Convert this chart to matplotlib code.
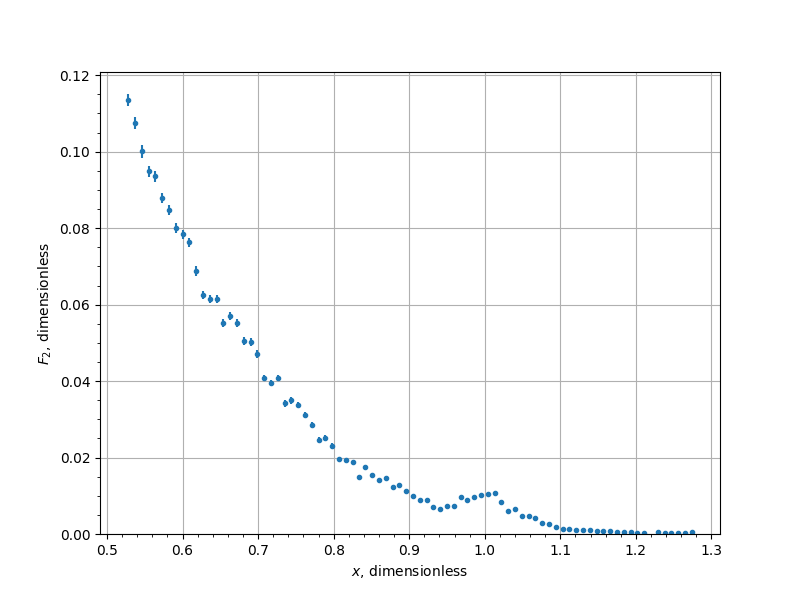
import matplotlib
matplotlib.use("Agg")
import matplotlib.pyplot as plt

x_vals = [0.528, 0.537, 0.546, 0.555, 0.564, 0.573, 0.582, 0.591, 0.600, 0.609,
          0.618, 0.627, 0.636, 0.645, 0.654, 0.663, 0.672, 0.681, 0.690, 0.699,
          0.708, 0.717, 0.726, 0.735, 0.744, 0.753, 0.762, 0.771, 0.780, 0.789,
          0.798, 0.807, 0.816, 0.825, 0.834, 0.842, 0.851, 0.860, 0.869, 0.878,
          0.887, 0.896, 0.905, 0.914, 0.923, 0.932, 0.941, 0.950, 0.959, 0.968,
          0.977, 0.986, 0.995, 1.004, 1.013, 1.022, 1.031, 1.040, 1.049, 1.058,
          1.067, 1.076, 1.085, 1.094, 1.103, 1.112, 1.121, 1.130, 1.139, 1.148,
          1.157, 1.166, 1.175, 1.184, 1.193, 1.202, 1.211,
          1.229, 1.238, 1.247, 1.256, 1.265, 1.274]

f2_vals = [0.1135, 0.1075, 0.1001, 0.0949, 0.0936, 0.0878, 0.0847, 0.0800, 0.0784, 0.0763,
           0.0688, 0.0625, 0.0614, 0.0614, 0.0552, 0.0570, 0.0552, 0.0505, 0.0502, 0.0470,
           0.0408, 0.0395, 0.0408, 0.0342, 0.0350, 0.0337, 0.0311, 0.0285, 0.0246, 0.0251,
           0.0230, 0.0196, 0.0193, 0.0188, 0.0149, 0.0175, 0.0154, 0.0141, 0.0146, 0.0123,
           0.0128, 0.0112, 0.0099, 0.0089, 0.0089, 0.0071, 0.0065, 0.0073, 0.0073, 0.0097,
           0.0089, 0.0097, 0.0102, 0.0105, 0.0107, 0.0085, 0.0059, 0.0065, 0.0047, 0.0047,
           0.0041, 0.0028, 0.0025, 0.0018, 0.0012, 0.0012, 0.0010, 0.0010, 0.0010, 0.0007,
           0.0007, 0.0007, 0.0004, 0.0004, 0.0004, 0.0002, 0.0003,
           0.0004, 0.0003, 0.0003, 0.0003, 0.0002, 0.0004]

f2_err = [0.0016, 0.0016, 0.0017, 0.0014, 0.0014, 0.0013, 0.0013, 0.0013, 0.0012, 0.0012,
          0.0012, 0.0011, 0.0011, 0.0011, 0.0011, 0.0011, 0.0010, 0.0010, 0.0010, 0.0010,
          0.0009, 0.0009, 0.0009, 0.0009, 0.0009, 0.0008, 0.0008, 0.0008, 0.0007, 0.0007,
          0.0007, 0.0006, 0.0006, 0.0006, 0.0005, 0.0006, 0.0005, 0.0005, 0.0005, 0.0004,
          0.0004, 0.0004, 0.0004, 0.0003, 0.0003, 0.0003, 0.0003, 0.0003, 0.0003, 0.0003,
          0.0003, 0.0003, 0.0003, 0.0003, 0.0003, 0.0003, 0.0002, 0.0002, 0.0002, 0.0002,
          0.0002, 0.0002, 0.0002, 0.0001, 0.0001, 0.0001, 0.0001, 0.0001, 0.0001, 0.0001,
          0.0001, 0.0001, 0.0001, 0.0001, 0.0001, 0.0001, 0.0001,
          0.0001, 0.0001, 0.0001, 0.0001, 0.0001, 0.0001]

fig, ax = plt.subplots(figsize=(8, 6), dpi=100)
ax.errorbar(x_vals, f2_vals, yerr=f2_err, fmt='.', color='#1f77b4')
ax.set_ylim(bottom=0)
ax.minorticks_on()
ax.grid(True, which='major')
ax.set_xlabel(r'$x$, dimensionless')
ax.set_ylabel(r'$F_2$, dimensionless')
fig.savefig('out.png', dpi=100)
